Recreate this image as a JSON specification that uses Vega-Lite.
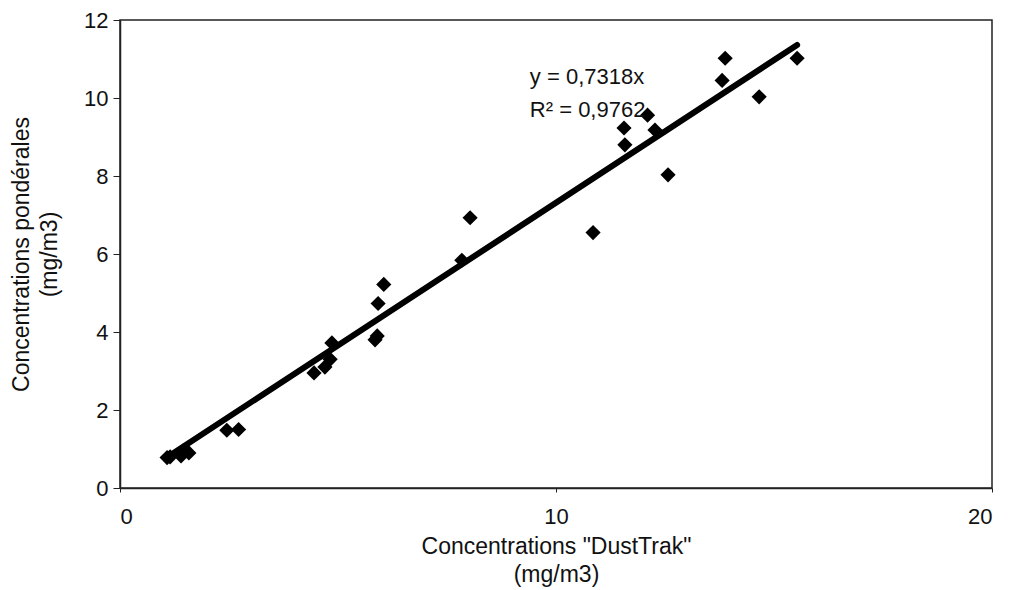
{
  "$schema": "https://vega.github.io/schema/vega-lite/v6.json",
  "width": 872,
  "height": 468,
  "autosize": {"type": "none"},
  "padding": {"left": 120, "top": 20, "right": 21, "bottom": 102},
  "background": "white",
  "config": {
    "font": "Liberation Sans",
    "view": {"stroke": "#222", "strokeWidth": 1.5},
    "axis": {"grid": false, "domainColor": "#222", "domainWidth": 1.5, "tickColor": "#222", "labelColor": "#111", "titleColor": "#111", "labelFontSize": 22, "titleFontSize": 23, "titleFontWeight": "normal", "labelFont": "Liberation Sans", "titleFont": "Liberation Sans"}
  },
  "datasets": {
    "points": [
      {"x": 1.08, "y": 0.78},
      {"x": 1.15, "y": 0.8},
      {"x": 1.4, "y": 0.82},
      {"x": 1.45, "y": 0.95},
      {"x": 1.58, "y": 0.9},
      {"x": 2.45, "y": 1.48},
      {"x": 2.72, "y": 1.5},
      {"x": 4.45, "y": 2.95},
      {"x": 4.7, "y": 3.1},
      {"x": 4.82, "y": 3.3},
      {"x": 4.86, "y": 3.72},
      {"x": 5.85, "y": 3.8},
      {"x": 5.9, "y": 3.9},
      {"x": 5.92, "y": 4.73},
      {"x": 6.05, "y": 5.22},
      {"x": 7.84, "y": 5.84},
      {"x": 8.03, "y": 6.93},
      {"x": 10.85, "y": 6.55},
      {"x": 11.56, "y": 9.23},
      {"x": 11.58, "y": 8.8},
      {"x": 12.1, "y": 9.56},
      {"x": 12.27, "y": 9.18},
      {"x": 12.57, "y": 8.03},
      {"x": 13.81, "y": 10.45},
      {"x": 13.88, "y": 11.02},
      {"x": 14.66, "y": 10.03},
      {"x": 15.53, "y": 11.02}
    ],
    "trend": [
      {"x": 1.08, "y": 0.79},
      {"x": 15.53, "y": 11.36}
    ],
    "labels": [
      {"x": 9.4, "y": 10.54, "t": "y = 0,7318x"},
      {"x": 9.4, "y": 9.69, "t": "R² = 0,9762"}
    ]
  },
  "layer": [
    {
      "data": {"name": "trend"},
      "mark": {"type": "line", "color": "#000", "strokeWidth": 6, "strokeCap": "round"},
      "encoding": {
        "x": {"field": "x", "type": "quantitative", "scale": {"domain": [0, 20], "nice": false},
          "axis": {"values": [0, 10, 20], "tickSize": 4, "labelPadding": 14, "labelFontSize": 22, "title": ["Concentrations \"DustTrak\"", "(mg/m3)"], "titleFontSize": 23, "titlePadding": 8, "titleLineHeight": 28}},
        "y": {"field": "y", "type": "quantitative", "scale": {"domain": [0, 12], "nice": false},
          "axis": {"values": [0, 2, 4, 6, 8, 10, 12], "tickSize": 7, "labelPadding": 5, "labelFontSize": 22, "title": ["Concentrations pondérales", "(mg/m3)"], "titleFontSize": 23, "titlePadding": 22, "titleLineHeight": 28}}
      }
    },
    {
      "data": {"name": "points"},
      "mark": {"type": "point", "shape": "diamond", "filled": true, "color": "#000", "size": 230, "opacity": 1},
      "encoding": {
        "x": {"field": "x", "type": "quantitative"},
        "y": {"field": "y", "type": "quantitative"}
      }
    },
    {
      "data": {"name": "labels"},
      "mark": {"type": "text", "align": "left", "baseline": "middle", "fontSize": 22, "color": "#111", "font": "Liberation Sans"},
      "encoding": {
        "x": {"field": "x", "type": "quantitative"},
        "y": {"field": "y", "type": "quantitative"},
        "text": {"field": "t"}
      }
    }
  ]
}
